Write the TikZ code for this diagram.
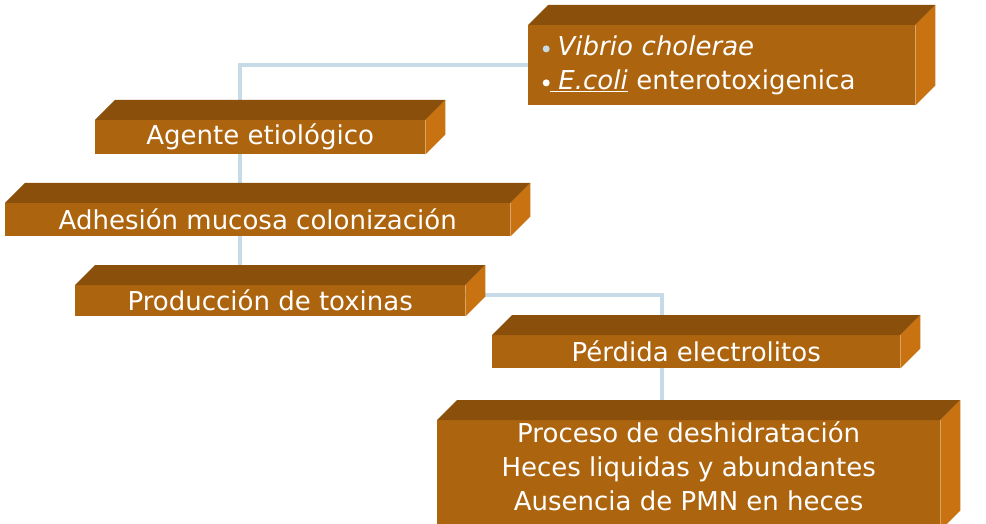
\documentclass[tikz,border=0pt]{standalone}
\usepackage{fontspec}
\setmainfont{DejaVu Sans}
\usetikzlibrary{backgrounds}
\definecolor{fr}{HTML}{AD640E}
\definecolor{tp}{HTML}{8A4F0A}
\definecolor{sd}{HTML}{C87212}
\definecolor{ln}{HTML}{C6DBE7}
\newcommand\boxfaces[1]{%
  \fill[tp] (#1.north west) -- ++(20,-20) -- ([shift={(20,-20)}]#1.north east) -- (#1.north east) -- cycle;
  \fill[sd] (#1.north east) -- ++(20,-20) -- ([shift={(20,-20)}]#1.south east) -- (#1.south east) -- cycle;}
\newcommand\mybul[1]{\textcolor{#1}{\raisebox{3pt}{\tikz\fill circle (3.5pt);}}}
\begin{document}
\begin{tikzpicture}[x=1pt,y=-1pt,
  front/.style={fill=fr,text=white,anchor=north west,inner sep=0pt,font=\fontsize{26}{34}\selectfont,align=center},
  conn/.style={draw=ln,line width=4pt}]
\clip (0,0) rectangle (986,524);
\useasboundingbox (0,0) rectangle (986,524);
\node[front,minimum width=387,minimum height=80,text width=370,align=left] (v) at (528,25) {\hspace*{6pt}\mybul{ln}\hspace{8pt}\textit{Vibrio cholerae}\\\hspace*{6pt}\mybul{white}\underline{\textit{~E.coli}} enterotoxigenica};
\node[front,minimum width=330,minimum height=34] (a) at (95,120) {Agente etiológico};
\node[front,minimum width=505,minimum height=33] (b) at (5,203) {Adhesión mucosa colonización};
\node[front,minimum width=390,minimum height=31] (c) at (75,285) {Producción de toxinas};
\node[front,minimum width=408,minimum height=33] (d) at (492,335) {Pérdida electrolitos};
\node[front,minimum width=503,minimum height=110] (e) at (437,420) {};
\node[text=white,font=\fontsize{26}{34}\selectfont,align=center,anchor=north,inner sep=0pt] (et) at ([yshift=-2]e.north) {Proceso de deshidratación\\Heces liquidas y abundantes\\Ausencia de PMN en heces};
\foreach \n in {v,a,b,c,d,e} {\boxfaces{\n}}
\begin{scope}[on background layer]
\coordinate (k1) at (240,65);
\draw[conn] (a.north -| k1) -- (k1) -- (k1 -| v.west);
\draw[conn] (a.south -| k1) -- (b.north -| k1);
\draw[conn] (b.south -| k1) -- (c.north -| k1);
\coordinate (k2) at (662,295);
\draw[conn] (c.east |- k2) -- (k2) -- (d.north -| k2);
\draw[conn] (d.south -| k2) -- (e.north -| k2);
\end{scope}
\end{tikzpicture}
\end{document}
